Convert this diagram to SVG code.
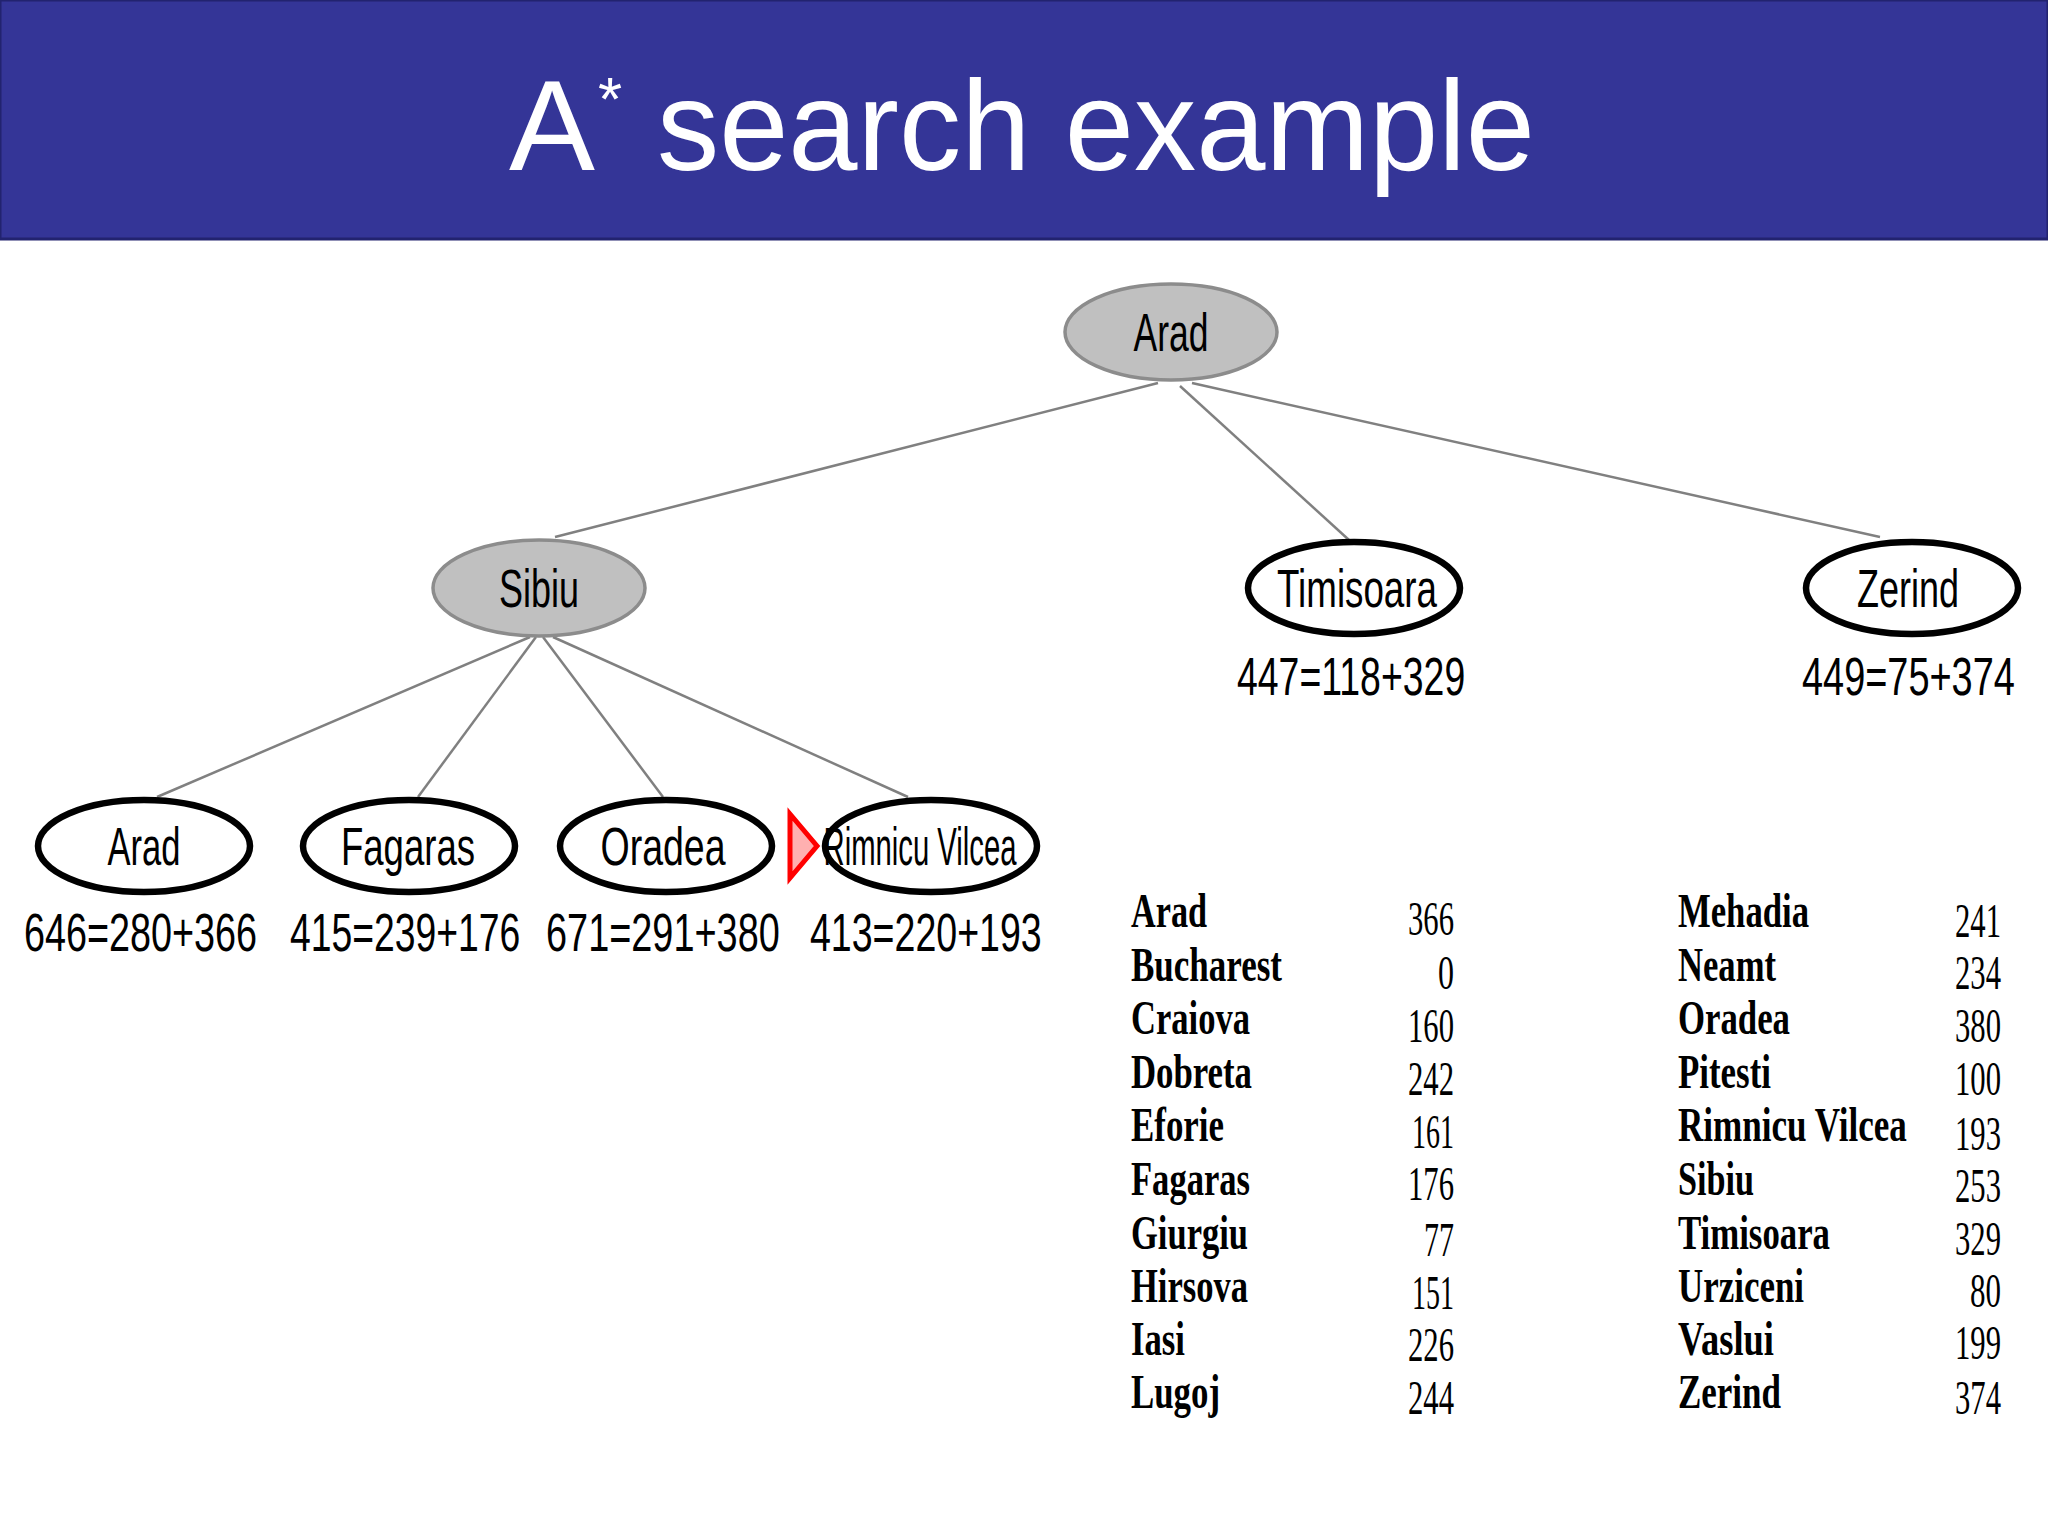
<svg xmlns="http://www.w3.org/2000/svg" width="2048" height="1536" viewBox="0 0 2048 1536">
<style>
.title{font-family:"Liberation Sans",Arial,sans-serif;fill:#ffffff}
.edge{stroke:#808080;stroke-width:2.5;fill:none}
.exp{fill:#c0c0c0;stroke:#8c8c8c;stroke-width:3.5}
.leaf{fill:#ffffff;stroke:#000000;stroke-width:6.5}
.nl{font-family:"Liberation Sans",Arial,sans-serif;font-size:54px;fill:#000000;text-anchor:middle}
.fv{font-family:"Liberation Sans",Arial,sans-serif;font-size:54px;fill:#000000}
.nm{font-family:"Liberation Serif","Times New Roman",serif;font-weight:bold;font-size:48px;fill:#000000}
.nu{font-family:"Liberation Serif","Times New Roman",serif;font-size:48px;fill:#000000;text-anchor:end}
</style>
<rect x="0" y="0" width="2048" height="1536" fill="#ffffff"/>
<rect x="0" y="0" width="2048" height="239" fill="#343597" stroke="#22236f" stroke-width="3"/>
<text class="title" x="509" y="170" font-size="128" textLength="86" lengthAdjust="spacingAndGlyphs">A</text>
<text class="title" x="598" y="120" font-size="62">*</text>
<text class="title" x="657" y="170" font-size="128" textLength="878" lengthAdjust="spacingAndGlyphs">search example</text>

<g id="connectors">
<line class="edge" x1="1158" y1="383" x2="555" y2="537"/>
<line class="edge" x1="1180" y1="386" x2="1349" y2="540"/>
<line class="edge" x1="1192" y1="383" x2="1880" y2="537"/>
<line class="edge" x1="530" y1="637" x2="157" y2="797"/>
<line class="edge" x1="536" y1="637" x2="418" y2="797"/>
<line class="edge" x1="543" y1="637" x2="663" y2="797"/>
<line class="edge" x1="553" y1="637" x2="908" y2="797"/>
</g>

<g id="node-arad-root">
<ellipse class="exp" cx="1171" cy="332" rx="106" ry="48"/>
<text class="nl" x="1171" y="351" textLength="75" lengthAdjust="spacingAndGlyphs">Arad</text>
</g>
<g id="node-sibiu">
<ellipse class="exp" cx="539" cy="588" rx="106" ry="48"/>
<text class="nl" x="539" y="607" textLength="80" lengthAdjust="spacingAndGlyphs">Sibiu</text>
</g>
<g id="node-timisoara">
<ellipse class="leaf" cx="1354" cy="588" rx="106" ry="46"/>
<text class="nl" x="1357" y="607" textLength="160" lengthAdjust="spacingAndGlyphs">Timisoara</text>
<text class="fv" transform="translate(1237,695) scale(0.7,1)" textLength="326" lengthAdjust="spacingAndGlyphs">447=118+329</text>
</g>
<g id="node-zerind">
<ellipse class="leaf" cx="1912" cy="588" rx="106" ry="46"/>
<text class="nl" x="1908" y="607" textLength="102" lengthAdjust="spacingAndGlyphs">Zerind</text>
<text class="fv" transform="translate(1802,695) scale(0.7,1)" textLength="304" lengthAdjust="spacingAndGlyphs">449=75+374</text>
</g>
<g id="node-arad-2">
<ellipse class="leaf" cx="144" cy="846" rx="106" ry="46"/>
<text class="nl" x="144" y="865" textLength="73" lengthAdjust="spacingAndGlyphs">Arad</text>
<text class="fv" transform="translate(24,951) scale(0.7,1)" textLength="333" lengthAdjust="spacingAndGlyphs">646=280+366</text>
</g>
<g id="node-fagaras">
<ellipse class="leaf" cx="409" cy="846" rx="106" ry="46"/>
<text class="nl" x="408" y="865" textLength="134" lengthAdjust="spacingAndGlyphs">Fagaras</text>
<text class="fv" transform="translate(290,951) scale(0.7,1)" textLength="329" lengthAdjust="spacingAndGlyphs">415=239+176</text>
</g>
<g id="node-oradea">
<ellipse class="leaf" cx="666" cy="846" rx="106" ry="46"/>
<text class="nl" x="663" y="865" textLength="125" lengthAdjust="spacingAndGlyphs">Oradea</text>
<text class="fv" transform="translate(546,951) scale(0.7,1)" textLength="334" lengthAdjust="spacingAndGlyphs">671=291+380</text>
</g>
<g id="node-rimnicu">
<ellipse class="leaf" cx="931" cy="846" rx="106" ry="46"/>
<text class="nl" x="920" y="865" textLength="193" lengthAdjust="spacingAndGlyphs">Rimnicu Vilcea</text>
<text class="fv" transform="translate(810,951) scale(0.7,1)" textLength="331" lengthAdjust="spacingAndGlyphs">413=220+193</text>
<polygon points="790,814 817,846 790,878" fill="#ffb0b0" stroke="#ff0000" stroke-width="5" stroke-linejoin="miter"/>
</g>

<g id="table">
<text class="nm" x="1131" y="927" textLength="76" lengthAdjust="spacingAndGlyphs">Arad</text>
<text class="nm" x="1131" y="981" textLength="151" lengthAdjust="spacingAndGlyphs">Bucharest</text>
<text class="nm" x="1131" y="1034" textLength="119" lengthAdjust="spacingAndGlyphs">Craiova</text>
<text class="nm" x="1131" y="1088" textLength="121" lengthAdjust="spacingAndGlyphs">Dobreta</text>
<text class="nm" x="1131" y="1141" textLength="93" lengthAdjust="spacingAndGlyphs">Eforie</text>
<text class="nm" x="1131" y="1195" textLength="119" lengthAdjust="spacingAndGlyphs">Fagaras</text>
<text class="nm" x="1131" y="1249" textLength="117" lengthAdjust="spacingAndGlyphs">Giurgiu</text>
<text class="nm" x="1131" y="1302" textLength="117" lengthAdjust="spacingAndGlyphs">Hirsova</text>
<text class="nm" x="1131" y="1355" textLength="54" lengthAdjust="spacingAndGlyphs">Iasi</text>
<text class="nm" x="1131" y="1408" textLength="89" lengthAdjust="spacingAndGlyphs">Lugoj</text>

<text class="nu" x="1454" y="935" textLength="46" lengthAdjust="spacingAndGlyphs">366</text>
<text class="nu" x="1454" y="989" textLength="16" lengthAdjust="spacingAndGlyphs">0</text>
<text class="nu" x="1454" y="1042" textLength="46" lengthAdjust="spacingAndGlyphs">160</text>
<text class="nu" x="1454" y="1095" textLength="46" lengthAdjust="spacingAndGlyphs">242</text>
<text class="nu" x="1454" y="1148" textLength="42" lengthAdjust="spacingAndGlyphs">161</text>
<text class="nu" x="1454" y="1200" textLength="46" lengthAdjust="spacingAndGlyphs">176</text>
<text class="nu" x="1454" y="1256" textLength="30" lengthAdjust="spacingAndGlyphs">77</text>
<text class="nu" x="1454" y="1309" textLength="42" lengthAdjust="spacingAndGlyphs">151</text>
<text class="nu" x="1454" y="1361" textLength="46" lengthAdjust="spacingAndGlyphs">226</text>
<text class="nu" x="1454" y="1414" textLength="46" lengthAdjust="spacingAndGlyphs">244</text>

<text class="nm" x="1678" y="927" textLength="131" lengthAdjust="spacingAndGlyphs">Mehadia</text>
<text class="nm" x="1678" y="981" textLength="98" lengthAdjust="spacingAndGlyphs">Neamt</text>
<text class="nm" x="1678" y="1034" textLength="112" lengthAdjust="spacingAndGlyphs">Oradea</text>
<text class="nm" x="1678" y="1088" textLength="93" lengthAdjust="spacingAndGlyphs">Pitesti</text>
<text class="nm" transform="translate(1678,1141) scale(0.7,1)" textLength="327" lengthAdjust="spacingAndGlyphs">Rimnicu Vilcea</text>
<text class="nm" x="1678" y="1195" textLength="76" lengthAdjust="spacingAndGlyphs">Sibiu</text>
<text class="nm" x="1678" y="1249" textLength="152" lengthAdjust="spacingAndGlyphs">Timisoara</text>
<text class="nm" x="1678" y="1302" textLength="126" lengthAdjust="spacingAndGlyphs">Urziceni</text>
<text class="nm" x="1678" y="1355" textLength="96" lengthAdjust="spacingAndGlyphs">Vaslui</text>
<text class="nm" x="1678" y="1408" textLength="103" lengthAdjust="spacingAndGlyphs">Zerind</text>

<text class="nu" x="2001" y="937" textLength="46" lengthAdjust="spacingAndGlyphs">241</text>
<text class="nu" x="2001" y="989" textLength="46" lengthAdjust="spacingAndGlyphs">234</text>
<text class="nu" x="2001" y="1042" textLength="46" lengthAdjust="spacingAndGlyphs">380</text>
<text class="nu" x="2001" y="1095" textLength="46" lengthAdjust="spacingAndGlyphs">100</text>
<text class="nu" x="2001" y="1150" textLength="46" lengthAdjust="spacingAndGlyphs">193</text>
<text class="nu" x="2001" y="1202" textLength="46" lengthAdjust="spacingAndGlyphs">253</text>
<text class="nu" x="2001" y="1255" textLength="46" lengthAdjust="spacingAndGlyphs">329</text>
<text class="nu" x="2001" y="1307" textLength="31" lengthAdjust="spacingAndGlyphs">80</text>
<text class="nu" x="2001" y="1359" textLength="46" lengthAdjust="spacingAndGlyphs">199</text>
<text class="nu" x="2001" y="1414" textLength="46" lengthAdjust="spacingAndGlyphs">374</text>
</g>
</svg>
